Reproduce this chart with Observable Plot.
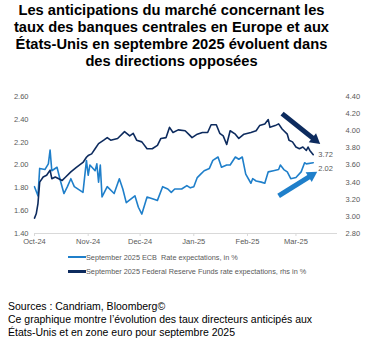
<!DOCTYPE html>
<html>
<head>
<meta charset="utf-8">
<script src="https://cdn.jsdelivr.net/npm/d3@7"></script>
<script src="https://cdn.jsdelivr.net/npm/@observablehq/plot@0.6"></script>
<style>
  body { margin: 0; background: #fff; font-family: "Liberation Sans", Arial, sans-serif; }
  #title { width: 343px; text-align: center; font-weight: bold; font-size: 14.7px; line-height: 17px; padding-top: 2px; color: #000; height: 68px; white-space: nowrap; }
  #legend { padding-left: 68px; font-size: 7.3px; color: #595959; }
  .row { height: 14px; display: flex; align-items: center; white-space: pre; }
  .sw { display: inline-block; width: 18px; margin-right: 0px; }
  #caption { margin-top: 22px; padding-left: 8px; font-size: 10.5px; line-height: 13px; color: #000; }
</style>
</head>
<body>
<div id="title">Les anticipations du marché concernant les<br>taux des banques centrales en Europe et aux<br>États-Unis en septembre 2025 évoluent dans<br>des directions opposées</div>
<div id="chart"></div>
<div id="legend"></div>
<div id="caption">Sources : Candriam, Bloomberg©<br>Ce graphique montre l’évolution des taux directeurs anticipés aux<br>États-Unis et en zone euro pour septembre 2025</div>
<script>
// ECB September 2025 rate expectations (left axis, %)
const ecbDates = ["2024-10-01","2024-10-03","2024-10-04","2024-10-07","2024-10-09","2024-10-10","2024-10-11","2024-10-14","2024-10-16","2024-10-18","2024-10-20","2024-10-22","2024-10-24","2024-10-29","2024-10-31","2024-11-01","2024-11-02","2024-11-05","2024-11-06","2024-11-07","2024-11-08","2024-11-09","2024-11-12","2024-11-16","2024-11-19","2024-11-21","2024-11-23","2024-11-28","2024-11-30","2024-12-02","2024-12-05","2024-12-09","2024-12-11","2024-12-14","2024-12-17","2024-12-19","2024-12-21","2024-12-25","2024-12-28","2024-12-30","2025-01-01","2025-01-03","2025-01-05","2025-01-07","2025-01-10","2025-01-12","2025-01-15","2025-01-17","2025-01-20","2025-01-22","2025-01-25","2025-01-27","2025-01-29","2025-01-31","2025-02-03","2025-02-04","2025-02-06","2025-02-09","2025-02-11","2025-02-13","2025-02-16","2025-02-19","2025-02-20","2025-02-22","2025-02-24","2025-02-26","2025-03-01","2025-03-04","2025-03-06","2025-03-07","2025-03-11"];
const ecbValues = [1.81,1.73,1.97,1.96,2.01,2.13,1.95,1.98,1.86,1.75,1.81,1.88,1.81,1.76,2.04,1.91,2.00,1.95,2.01,1.85,2.00,1.72,1.81,1.75,1.88,1.79,1.67,1.73,1.63,1.57,1.72,1.70,1.69,1.81,1.79,1.76,1.79,1.79,1.82,1.80,1.81,1.89,1.92,1.95,1.97,2.04,2.07,1.98,2.00,2.00,2.07,2.05,2.07,1.92,1.84,1.88,1.86,1.85,1.84,1.94,1.95,1.96,2.00,1.96,1.94,1.88,1.89,1.94,2.02,2.01,2.02];

// Fed Funds September 2025 rate expectations (right axis, %)
const fedDates = ["2024-10-01","2024-10-02","2024-10-03","2024-10-04","2024-10-06","2024-10-08","2024-10-10","2024-10-11","2024-10-13","2024-10-15","2024-10-17","2024-10-19","2024-10-22","2024-10-25","2024-10-29","2024-10-31","2024-11-01","2024-11-03","2024-11-05","2024-11-07","2024-11-10","2024-11-12","2024-11-14","2024-11-18","2024-11-22","2024-11-25","2024-11-27","2024-11-29","2024-12-02","2024-12-05","2024-12-08","2024-12-11","2024-12-13","2024-12-16","2024-12-18","2024-12-20","2024-12-23","2024-12-27","2024-12-29","2024-12-30","2024-12-31","2025-01-03","2025-01-06","2025-01-09","2025-01-11","2025-01-14","2025-01-16","2025-01-18","2025-01-20","2025-01-22","2025-01-25","2025-01-27","2025-01-30","2025-02-03","2025-02-06","2025-02-08","2025-02-11","2025-02-13","2025-02-14","2025-02-17","2025-02-19","2025-02-21","2025-02-24","2025-02-25","2025-02-27","2025-03-01","2025-03-03","2025-03-05","2025-03-07","2025-03-08","2025-03-09","2025-03-11"];
const fedValues = [2.98,3.03,3.15,3.40,3.46,3.48,3.54,3.44,3.46,3.44,3.42,3.46,3.52,3.57,3.63,3.69,3.71,3.73,3.79,3.85,3.89,3.92,3.89,3.91,3.99,3.94,3.97,3.89,3.87,3.79,3.79,3.83,3.91,3.92,4.04,3.98,4.01,4.00,3.96,3.94,3.92,3.96,3.98,3.98,4.07,4.07,3.97,3.94,3.84,4.00,3.96,3.91,3.96,3.98,4.00,4.06,4.08,4.13,4.04,4.06,4.08,4.02,3.96,3.89,3.87,3.81,3.79,3.81,3.77,3.81,3.77,3.72];

const leftTicks = [1.40, 1.60, 1.80, 2.00, 2.20, 2.40, 2.60];
const rightTicks = [2.80, 3.00, 3.20, 3.40, 3.60, 3.80, 4.00, 4.20, 4.40];
const xDomain = ["2024-10-01", "2025-03-25"];
const monthTicks = ["2024-10-01","2024-11-01","2024-12-01","2025-01-01","2025-02-01","2025-03-01"];

const seriesNames = ["September 2025 ECB  Rate expectations, in %", "September 2025 Federal Reserve Funds rate expectations, rhs in %"];
const seriesColors = ["#1f7fca", "#0d2b5e"];

// Annotation arrows (dark: Fed trend in left-axis units, light: ECB trend)
const arrowStartDates = ["2025-02-21", "2025-02-19"];
const arrowStartValues = [2.45, 1.73];
const arrowEndDates = ["2025-03-12", "2025-03-10"];
const arrowEndValues = [2.22, 1.91];
const arrowAngles = [129, 58];

const parse = d3.utcParse("%Y-%m-%d");
const toLeft = f => 1.40 + (f - 2.80) * (1.2 / 1.6);

const ecb = ecbDates.map((d, i) => ({date: parse(d), v: ecbValues[i]}));
const fed = fedDates.map((d, i) => ({date: parse(d), v: fedValues[i]}));
const arrows = arrowStartDates.map((d, i) => ({
  x1: parse(d), y1: arrowStartValues[i], x2: parse(arrowEndDates[i]), y2: arrowEndValues[i],
  color: seriesColors[1 - i], angle: arrowAngles[i]
}));
const lastEcb = ecb[ecb.length - 1];
const lastFed = fed[fed.length - 1];
const rightPos = rightTicks.map(toLeft);

const chart = Plot.plot({
  width: 371,
  height: 180,
  marginTop: 26,
  marginBottom: 17,
  marginLeft: 34,
  marginRight: 34,
  style: {fontFamily: "'Liberation Sans', Arial, sans-serif", fontSize: "7.5px", color: "#595959", background: "#fff"},
  x: {type: "utc", domain: xDomain.map(parse), label: null},
  y: {domain: [1.40, 2.60], label: null},
  marks: [
    Plot.ruleY([1.40], {stroke: "#d9d9d9", strokeWidth: 1}),
    Plot.axisY(leftTicks, {anchor: "left", tickSize: 0, tickPadding: 6, tickFormat: d => d.toFixed(2), label: null}),
    Plot.axisY(rightPos, {anchor: "right", tickSize: 0, tickPadding: 8, label: null,
      tickFormat: d => rightTicks[rightPos.findIndex(t => Math.abs(t - d) < 1e-9)].toFixed(2)}),
    Plot.axisX(monthTicks.map(parse), {anchor: "bottom", tickSize: 3, tickPadding: 2, stroke: "#d9d9d9", tickFormat: d3.utcFormat("%b-%y"), label: null}),
    Plot.line(ecb, {x: "date", y: "v", stroke: seriesColors[0], strokeWidth: 1.6}),
    Plot.line(fed, {x: "date", y: d => toLeft(d.v), stroke: seriesColors[1], strokeWidth: 1.6}),
    Plot.text([lastFed], {x: "date", y: d => toLeft(d.v), text: d => d.v.toFixed(2), textAnchor: "start", dx: 5, dy: 0, fill: "#595959"}),
    Plot.text([lastEcb], {x: "date", y: "v", text: d => d.v.toFixed(2), textAnchor: "start", dx: 5, dy: 6, fill: "#595959"}),
    Plot.link(arrows, {x1: "x1", y1: "y1", x2: "x2", y2: "y2", stroke: "color", strokeWidth: 5}),
    Plot.dot(arrows, {x: "x2", y: "y2", symbol: "triangle", r: 4.3, fill: "color", stroke: "none", rotate: "angle"})
  ]
});
document.getElementById("chart").appendChild(chart);

const legend = document.getElementById("legend");
[0, 1].forEach(i => {
  const row = document.createElement("div");
  row.className = "row";
  const sw = document.createElement("span");
  sw.className = "sw";
  sw.style.height = i === 0 ? "2px" : "3px";
  sw.style.background = seriesColors[i];
  const tx = document.createElement("span");
  tx.textContent = seriesNames[i];
  row.appendChild(sw);
  row.appendChild(tx);
  legend.appendChild(row);
});
</script>
</body>
</html>
